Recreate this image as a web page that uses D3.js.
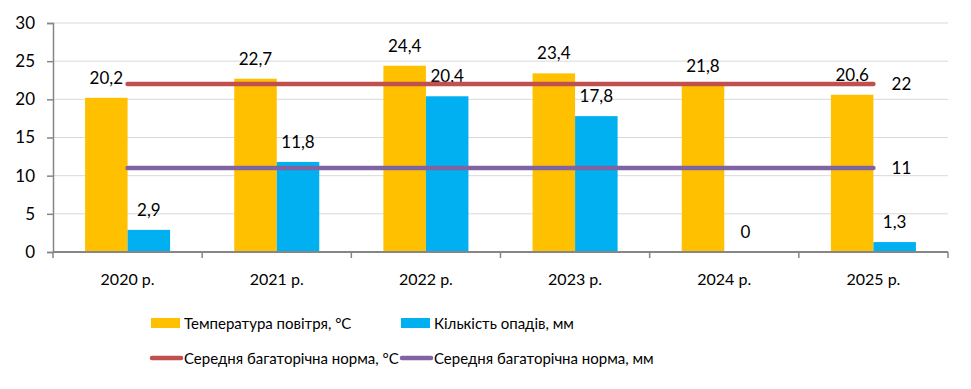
<!DOCTYPE html>
<html>
<head>
<meta charset="utf-8">
<script src="https://cdn.jsdelivr.net/npm/d3@7"></script>
<style>
  body { margin: 0; background: #fff; }
  svg text { font-family: Lato, "Open Sans", sans-serif; fill: #000; }
</style>
</head>
<body>
<svg id="chart"></svg>
<script>
// data
const years = ['2020 р.', '2021 р.', '2022 р.', '2023 р.', '2024 р.', '2025 р.'];
const temperature = [20.2, 22.7, 24.4, 23.4, 21.8, 20.6];
const precipitation = [2.9, 11.8, 20.4, 17.8, 0, 1.3];
const normTemp = [22, 22, 22, 22, 22, 22];
const normPrecip = [11, 11, 11, 11, 11, 11];
const yTicks = [0, 5, 10, 15, 20, 25, 30];
const seriesNames = ['Температура повітря, °С', 'Кількість опадів, мм',
  'Середня багаторічна норма, °С', 'Середня багаторічна норма, мм'];

const colors = { temp: '#FFC000', precip: '#00B0F0', normT: '#C0504D', normP: '#8064A2' };

const width = 971, height = 389;
const margin = { top: 23, right: 23, bottom: 137, left: 53 };
const w = width - margin.left - margin.right;
const h = height - margin.top - margin.bottom;

const svg = d3.select('#chart').attr('width', width).attr('height', height);
const g = svg.append('g').attr('transform', `translate(${margin.left},${margin.top})`);

const x0 = d3.scaleBand().domain(years).range([0, w]).paddingInner(0.43).paddingOuter(0.215);
const x1 = d3.scaleBand().domain(['temp', 'precip']).range([0, x0.bandwidth()]);
const y = d3.scaleLinear().domain([0, 30]).range([h, 0]);
const step = x0.step();
const mid = d => x0(d) + x0.bandwidth() / 2;

// gridlines
g.selectAll('.grid').data(yTicks.slice(1)).enter().append('line')
  .attr('x1', 0).attr('x2', w)
  .attr('y1', d => y(d)).attr('y2', d => y(d))
  .attr('stroke', '#D9D9D9').attr('stroke-width', 1);

// y axis
const yAxis = g.append('g').call(d3.axisLeft(y).tickValues(yTicks).tickSize(6).tickPadding(12));
yAxis.select('.domain').attr('stroke', '#868686').attr('stroke-width', 1.5);
yAxis.selectAll('.tick line').attr('stroke', '#868686').attr('stroke-width', 1.5);
yAxis.selectAll('text').style('font-size', '17px').style('font-family', 'Lato, "Open Sans", sans-serif');

// bars
const rows = years.map((d, i) => ({ year: d, temp: temperature[i], precip: precipitation[i] }));
const grp = g.selectAll('.grp').data(rows).enter().append('g')
  .attr('transform', d => `translate(${x0(d.year)},0)`);

['temp', 'precip'].forEach(k => {
  grp.append('rect')
    .attr('x', x1(k)).attr('width', x1.bandwidth())
    .attr('y', d => y(d[k])).attr('height', d => h - y(d[k]))
    .attr('fill', colors[k]);
  grp.append('text')
    .attr('x', x1(k) + x1.bandwidth() / 2)
    .attr('y', d => y(d[k]) - 14)
    .attr('text-anchor', 'middle')
    .style('font-size', '17px')
    .text(d => String(d[k]).replace('.', ','));
});

// x axis
const xAxisG = g.append('g').attr('transform', `translate(0,${h})`);
xAxisG.append('line').attr('x1', 0).attr('x2', w).attr('stroke', '#868686').attr('stroke-width', 2);
xAxisG.selectAll('.xt').data(d3.range(years.length + 1)).enter().append('line')
  .attr('x1', d => d * step).attr('x2', d => d * step)
  .attr('y1', 0).attr('y2', 6)
  .attr('stroke', '#868686').attr('stroke-width', 1.5);
xAxisG.selectAll('.xl').data(years).enter().append('text')
  .attr('x', d => mid(d)).attr('y', 33)
  .attr('text-anchor', 'middle')
  .style('font-size', '16px')
  .text(d => d);

// norm lines
const line = d3.line().x((d, i) => mid(years[i])).y(d => y(d));
[[normTemp, colors.normT], [normPrecip, colors.normP]].forEach(([vals, c]) => {
  g.append('path').datum(vals)
    .attr('d', line)
    .attr('fill', 'none').attr('stroke', c)
    .attr('stroke-width', 4.5).attr('stroke-linecap', 'round');
  g.append('text')
    .attr('x', mid(years[years.length - 1]) + 28)
    .attr('y', y(vals[vals.length - 1]) + 6)
    .attr('text-anchor', 'middle')
    .style('font-size', '17px')
    .text(vals[vals.length - 1]);
});

// legend
const legendItems = [
  { name: seriesNames[0], color: colors.temp, type: 'rect', x: 151, y: 323 },
  { name: seriesNames[1], color: colors.precip, type: 'rect', x: 401, y: 323 },
  { name: seriesNames[2], color: colors.normT, type: 'line', x: 151, y: 358 },
  { name: seriesNames[3], color: colors.normP, type: 'line', x: 401, y: 358 }
];
const lg = svg.append('g');
legendItems.forEach(it => {
  if (it.type === 'rect') {
    lg.append('rect').attr('x', it.x).attr('y', it.y - 5).attr('width', 29).attr('height', 10).attr('fill', it.color);
  } else {
    lg.append('line').attr('x1', it.x + 1).attr('x2', it.x + 30).attr('y1', it.y).attr('y2', it.y)
      .attr('stroke', it.color).attr('stroke-width', 4.5).attr('stroke-linecap', 'round');
  }
  lg.append('text').attr('x', it.x + 33).attr('y', it.y + 6)
    .style('font-size', '15px').text(it.name);
});
</script>
</body>
</html>
